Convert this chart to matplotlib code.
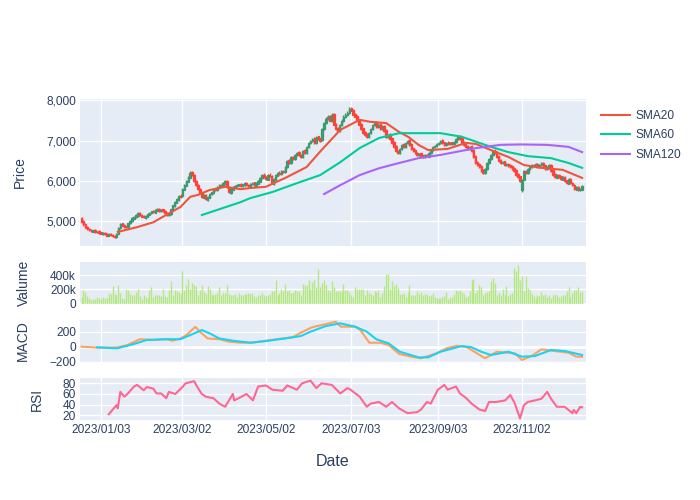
'''Price chart with SMA, volume, MACD and RSI panels'''

import numpy as np
import pandas as pd
import matplotlib.pyplot as plt
from matplotlib.ticker import FuncFormatter

plt.rcParams['font.family'] = ['Liberation Sans', 'DejaVu Sans']

# daily candles (one value per trading day, from 2022-12-20)
open_ = [5080, 5000, 4940, 4860, 4820, 4790, 4750, 4790, 4730, 4760,
         4730, 4690, 4720, 4690, 4650, 4700, 4670, 4650, 4610, 4690,
         4840, 4950, 4910, 4880, 4870, 4950, 5010, 5070, 5110, 5140,
         5210, 5160, 5130, 5090, 5120, 5170, 5210, 5260, 5220, 5270,
         5310, 5250, 5300, 5260, 5210, 5150, 5190, 5290, 5390, 5470,
         5540, 5640, 5620, 5790, 5890, 5990, 6090, 6220, 6160, 6010,
         5910, 5810, 5720, 5590, 5660, 5540, 5590, 5670, 5710, 5820,
         5770, 5840, 5910, 5870, 5940, 6010, 5860, 5710, 5790, 5840,
         5870, 5890, 5930, 5870, 5910, 5960, 5910, 5860, 5920, 5970,
         5890, 5940, 5990, 6070, 6160, 6110, 6040, 6160, 6130, 5940,
         6040, 6140, 6210, 6170, 6260, 6220, 6340, 6520, 6440, 6610,
         6540, 6640, 6720, 6660, 6590, 6770, 6690, 6840, 6940, 6990,
         7070, 6940, 7110, 7060, 7020, 7290, 7440, 7540, 7620, 7490,
         7660, 7420, 7320, 7240, 7390, 7490, 7590, 7640, 7690, 7820,
         7760, 7660, 7620, 7510, 7420, 7310, 7220, 7170, 7090, 7190,
         7290, 7390, 7470, 7340, 7420, 7290, 7360, 7270, 7090, 7170,
         7060, 6970, 6870, 6760, 6690, 6790, 6920, 6840, 6940, 7020,
         6920, 6810, 6770, 6710, 6640, 6690, 6640, 6590, 6660, 6610,
         6690, 6770, 6840, 6870, 6910, 6940, 7020, 6960, 6890, 6970,
         6910, 6960, 6910, 6970, 7040, 7120, 7060, 6970, 6910, 6870,
         6790, 6870, 6770, 6620, 6470, 6420, 6370, 6270, 6190, 6290,
         6440, 6540, 6640, 6760, 6720, 6620, 6520, 6440, 6490, 6390,
         6430, 6400, 6370, 6320, 6270, 6170, 6120, 5780, 6040, 6260,
         6190, 6290, 6340, 6410, 6370, 6430, 6340, 6390, 6460, 6390,
         6290, 6340, 6410, 6270, 6170, 6090, 6160, 6120, 6040, 6110,
         6020, 5940, 6060, 5960, 5910, 5790, 5860, 5770, 5790]
high = [5110, 5030, 4960, 4890, 4840, 4810, 4800, 4810, 4770, 4780,
        4750, 4730, 4740, 4710, 4710, 4720, 4690, 4670, 4720, 4870,
        4960, 4970, 4930, 4900, 4970, 5040, 5100, 5140, 5180, 5230,
        5230, 5180, 5150, 5150, 5200, 5240, 5270, 5280, 5300, 5330,
        5330, 5310, 5320, 5280, 5230, 5200, 5320, 5420, 5500, 5580,
        5650, 5670, 5820, 5930, 6030, 6130, 6240, 6250, 6180, 6030,
        5930, 5830, 5740, 5670, 5680, 5620, 5700, 5740, 5820, 5840,
        5870, 5920, 5930, 5970, 6030, 6030, 5880, 5820, 5870, 5900,
        5920, 5940, 5950, 5940, 5970, 5980, 5930, 5950, 5980, 5990,
        5970, 6020, 6100, 6180, 6190, 6130, 6170, 6190, 6150, 6070,
        6170, 6230, 6240, 6270, 6280, 6370, 6530, 6540, 6620, 6630,
        6670, 6730, 6740, 6680, 6770, 6790, 6870, 6980, 7030, 7080,
        7090, 7120, 7130, 7080, 7320, 7470, 7580, 7630, 7640, 7680,
        7680, 7440, 7340, 7420, 7530, 7630, 7680, 7730, 7830, 7850,
        7780, 7680, 7640, 7530, 7440, 7330, 7240, 7190, 7220, 7330,
        7420, 7480, 7490, 7430, 7440, 7380, 7380, 7290, 7180, 7190,
        7080, 6990, 6890, 6780, 6820, 6930, 6940, 6970, 7030, 7040,
        6940, 6830, 6790, 6730, 6700, 6710, 6660, 6670, 6680, 6720,
        6800, 6870, 6900, 6940, 6970, 7030, 7040, 6980, 6970, 6990,
        6970, 6980, 7000, 7080, 7130, 7140, 7080, 6990, 6930, 6890,
        6870, 6890, 6790, 6640, 6490, 6440, 6390, 6290, 6320, 6470,
        6570, 6670, 6780, 6790, 6740, 6640, 6540, 6510, 6510, 6440,
        6450, 6420, 6390, 6340, 6290, 6190, 6140, 6060, 6270, 6280,
        6320, 6370, 6420, 6430, 6440, 6450, 6420, 6470, 6480, 6410,
        6370, 6420, 6430, 6290, 6190, 6170, 6180, 6140, 6120, 6130,
        6040, 6070, 6080, 5980, 5930, 5870, 5880, 5820, 5900]
low = [4970, 4900, 4830, 4800, 4760, 4730, 4740, 4720, 4710, 4700,
       4680, 4670, 4660, 4630, 4630, 4640, 4620, 4580, 4590, 4680,
       4820, 4880, 4850, 4840, 4850, 4930, 4990, 5050, 5090, 5120,
       5130, 5100, 5080, 5070, 5100, 5150, 5190, 5210, 5200, 5250,
       5240, 5230, 5230, 5180, 5140, 5130, 5170, 5270, 5370, 5450,
       5520, 5580, 5600, 5770, 5870, 5970, 6070, 6120, 5980, 5880,
       5780, 5680, 5580, 5570, 5530, 5520, 5570, 5650, 5690, 5760,
       5750, 5820, 5860, 5850, 5920, 5830, 5700, 5690, 5770, 5820,
       5850, 5870, 5860, 5850, 5890, 5880, 5850, 5840, 5900, 5880,
       5870, 5920, 5970, 6050, 6080, 6030, 6020, 6100, 5920, 5910,
       6020, 6120, 6160, 6150, 6210, 6200, 6320, 6430, 6420, 6530,
       6520, 6620, 6630, 6580, 6570, 6680, 6670, 6820, 6920, 6970,
       6930, 6920, 7030, 6980, 7000, 7270, 7420, 7520, 7480, 7470,
       7380, 7280, 7220, 7220, 7370, 7470, 7570, 7620, 7670, 7730,
       7630, 7580, 7480, 7380, 7280, 7180, 7130, 7070, 7070, 7170,
       7270, 7370, 7330, 7320, 7280, 7270, 7230, 7080, 7070, 7030,
       6930, 6830, 6730, 6670, 6670, 6770, 6830, 6820, 6920, 6880,
       6780, 6730, 6680, 6630, 6620, 6600, 6580, 6570, 6600, 6590,
       6670, 6750, 6820, 6850, 6890, 6920, 6930, 6880, 6870, 6900,
       6890, 6900, 6890, 6950, 7020, 7030, 6930, 6880, 6830, 6780,
       6770, 6730, 6580, 6430, 6380, 6330, 6230, 6170, 6170, 6270,
       6420, 6520, 6620, 6680, 6580, 6480, 6430, 6420, 6380, 6370,
       6360, 6330, 6280, 6230, 6130, 6080, 5980, 5720, 6020, 6180,
       6170, 6270, 6320, 6360, 6350, 6330, 6320, 6370, 6360, 6280,
       6270, 6320, 6230, 6130, 6080, 6070, 6080, 6030, 6020, 5980,
       5930, 5920, 5930, 5880, 5780, 5770, 5760, 5750, 5770]
close = [4990, 4930, 4850, 4820, 4780, 4760, 4780, 4740, 4750, 4720,
         4700, 4710, 4680, 4650, 4690, 4660, 4640, 4620, 4700, 4850,
         4930, 4900, 4870, 4860, 4950, 5020, 5080, 5120, 5150, 5200,
         5150, 5120, 5100, 5130, 5180, 5220, 5250, 5230, 5280, 5300,
         5260, 5290, 5250, 5200, 5160, 5180, 5300, 5400, 5480, 5550,
         5620, 5600, 5800, 5900, 6000, 6100, 6200, 6150, 6000, 5900,
         5800, 5700, 5600, 5650, 5550, 5600, 5680, 5720, 5800, 5780,
         5850, 5900, 5880, 5950, 6000, 5850, 5720, 5800, 5850, 5880,
         5900, 5920, 5880, 5920, 5950, 5900, 5870, 5930, 5960, 5900,
         5950, 6000, 6080, 6150, 6100, 6050, 6150, 6120, 5950, 6050,
         6150, 6200, 6180, 6250, 6230, 6350, 6500, 6450, 6600, 6550,
         6650, 6700, 6650, 6600, 6750, 6700, 6850, 6950, 7000, 7050,
         6950, 7100, 7050, 7000, 7300, 7450, 7550, 7600, 7500, 7650,
         7400, 7300, 7250, 7400, 7500, 7600, 7650, 7700, 7800, 7750,
         7650, 7600, 7500, 7400, 7300, 7200, 7150, 7100, 7200, 7300,
         7400, 7450, 7350, 7400, 7300, 7350, 7250, 7100, 7150, 7050,
         6950, 6850, 6750, 6700, 6800, 6900, 6850, 6950, 7000, 6900,
         6800, 6750, 6700, 6650, 6680, 6620, 6600, 6650, 6620, 6700,
         6780, 6850, 6880, 6920, 6950, 7000, 6950, 6900, 6950, 6920,
         6950, 6920, 6980, 7050, 7100, 7050, 6950, 6900, 6850, 6800,
         6850, 6750, 6600, 6450, 6400, 6350, 6250, 6200, 6300, 6450,
         6550, 6650, 6750, 6700, 6600, 6500, 6450, 6480, 6400, 6420,
         6380, 6350, 6300, 6250, 6150, 6100, 6000, 6030, 6250, 6200,
         6300, 6350, 6400, 6380, 6420, 6350, 6400, 6450, 6380, 6300,
         6350, 6400, 6250, 6150, 6100, 6150, 6100, 6050, 6100, 6000,
         5950, 6050, 5950, 5900, 5800, 5850, 5780, 5800, 5880]
# volume in thousands
volume_k = [90, 188, 160, 103, 80, 56, 61, 70, 90, 80,
            70, 99, 75, 80, 150, 136, 254, 136, 118, 268,
            150, 80, 70, 207, 197, 136, 118, 118, 160, 211,
            103, 70, 118, 99, 80, 188, 230, 90, 118, 118,
            127, 110, 211, 103, 99, 188, 324, 118, 188, 183,
            160, 136, 465, 197, 259, 348, 211, 291, 259, 249,
            118, 197, 259, 160, 136, 249, 207, 136, 118, 136,
            146, 240, 127, 155, 155, 268, 136, 118, 118, 136,
            94, 146, 127, 118, 136, 136, 150, 130,
            146, 103, 99, 118, 127, 146, 127, 103, 118, 136,
            174, 174, 338, 118, 155, 211, 183, 282, 174, 197,
            155, 170, 188, 183, 174, 127, 277, 268, 268, 329,
            207, 301, 338, 230, 489, 235, 291, 329, 268, 197,
            174, 315, 235, 174, 183, 174, 174, 277, 188, 197,
            164, 118, 99, 235, 211, 207, 207, 207, 118, 193,
            150, 136, 127, 174, 164, 188, 90, 150, 244, 418,
            418, 211, 324, 244, 277, 221, 141, 141, 155, 90,
            160, 268, 118, 118, 127, 174, 140,
            164, 127, 136, 136, 103, 127, 150, 90, 80, 80,
            80, 95, 103, 164, 70, 90, 90, 136, 197, 174,
            197, 160, 136, 90, 103, 174, 329, 348, 150, 188,
            259, 230, 127, 150, 160, 174, 324, 362, 291, 118,
            150, 127, 211, 118, 244, 113, 136, 150, 503, 465,
            540, 338, 385, 183, 385, 221, 188, 136, 103, 80,
            118, 103, 164, 127, 136, 99, 118, 80, 127, 136,
            127, 90, 108, 118, 118, 183, 230, 90, 150, 197,
            197, 230, 169, 174]

# moving averages
sma20_dates = ['2023-01-15', '2023-01-29', '2023-02-09', '2023-02-21', '2023-03-01',
               '2023-03-08', '2023-03-14', '2023-03-22', '2023-04-03', '2023-04-13',
               '2023-04-20', '2023-05-02', '2023-05-16', '2023-05-31', '2023-06-11',
               '2023-06-24', '2023-07-08', '2023-07-17', '2023-07-27', '2023-08-06',
               '2023-08-13', '2023-08-20', '2023-08-27', '2023-09-10', '2023-09-23',
               '2023-09-30', '2023-10-11', '2023-10-24', '2023-11-03', '2023-11-16',
               '2023-12-01', '2023-12-15']
sma20 = [4740, 4860, 4980, 5200, 5360, 5610, 5660, 5780, 5860, 5800,
         5830, 5860, 6080, 6350, 6770, 7270, 7520, 7470, 7440, 7220,
         7090, 6900, 6770, 6800, 6950, 6920, 6770, 6600, 6400, 6330,
         6280, 6080]
sma60_dates = ['2023-03-16', '2023-04-13', '2023-04-20', '2023-05-06', '2023-05-24',
               '2023-06-09', '2023-06-24', '2023-07-08', '2023-07-22', '2023-08-06',
               '2023-08-20', '2023-09-05', '2023-09-20', '2023-10-11', '2023-10-24',
               '2023-11-07', '2023-11-23', '2023-12-06', '2023-12-15']
sma60 = [5160, 5480, 5580, 5730, 5950, 6150, 6470, 6820, 7070, 7190,
         7190, 7190, 7100, 6850, 6720, 6620, 6570, 6450, 6330]
sma120_dates = ['2023-06-13', '2023-06-24', '2023-07-08', '2023-07-22', '2023-08-06',
                '2023-08-20', '2023-09-05', '2023-09-30', '2023-10-18', '2023-11-01',
                '2023-11-21', '2023-12-06', '2023-12-15']
sma120 = [5680, 5900, 6150, 6320, 6450, 6570, 6650, 6820, 6900, 6910,
          6900, 6850, 6720]

# MACD and signal
macd_dates = ['2022-12-20', '2023-01-02', '2023-01-14', '2023-01-22', '2023-01-31',
              '2023-02-09', '2023-02-19', '2023-02-23', '2023-03-01', '2023-03-06',
              '2023-03-12', '2023-03-15', '2023-03-21', '2023-03-29', '2023-04-05',
              '2023-04-13', '2023-04-22', '2023-05-02', '2023-05-14', '2023-05-21',
              '2023-05-26', '2023-06-04', '2023-06-14', '2023-06-21', '2023-06-25',
              '2023-07-05', '2023-07-09', '2023-07-15', '2023-07-24', '2023-07-29',
              '2023-08-06', '2023-08-15', '2023-08-22', '2023-09-01', '2023-09-08',
              '2023-09-17', '2023-09-24', '2023-10-06', '2023-10-16', '2023-10-28',
              '2023-11-02', '2023-11-09', '2023-11-16', '2023-11-26', '2023-12-06',
              '2023-12-12', '2023-12-15']
macd = [0, -13, -10, 22, 100, 90, 100, 80, 110, 155,
        265, 200, 110, 100, 67, 53, 55, 80, 110, 125,
        187, 258, 302, 333, 267, 267, 222, 53, 53, 22,
        -97, -133, -155, -88, -22, 13, -7, -155, -67, -88,
        -177, -124, -35, -57, -80, -133, -133]
signal_dates = ['2022-12-30', '2023-01-14', '2023-01-26', '2023-02-05', '2023-02-19',
                '2023-03-01', '2023-03-08', '2023-03-16', '2023-03-22', '2023-03-29',
                '2023-04-07', '2023-04-20', '2023-05-02', '2023-05-16', '2023-05-26',
                '2023-06-02', '2023-06-14', '2023-06-24', '2023-07-05', '2023-07-13',
                '2023-07-20', '2023-07-29', '2023-08-07', '2023-08-20', '2023-08-27',
                '2023-09-05', '2023-09-20', '2023-09-27', '2023-10-04', '2023-10-11',
                '2023-10-24', '2023-11-02', '2023-11-12', '2023-11-23', '2023-12-04',
                '2023-12-15']
signal = [-8, -22, 36, 90, 100, 100, 155, 222, 178, 110,
          80, 53, 75, 110, 142, 200, 276, 311, 267, 200,
          98, 44, -67, -142, -142, -67, 9, -7, -67, -111,
          -67, -133, -124, -44, -57, -111]

# RSI
rsi_dates = ['2023-01-09', '2023-01-13', '2023-01-15', '2023-01-17', '2023-01-19',
             '2023-01-22', '2023-01-26', '2023-01-29', '2023-02-02', '2023-02-05',
             '2023-02-09', '2023-02-12', '2023-02-15', '2023-02-19', '2023-02-21',
             '2023-02-25', '2023-03-02', '2023-03-05', '2023-03-10', '2023-03-14',
             '2023-03-16', '2023-03-20', '2023-03-24', '2023-03-29', '2023-04-03',
             '2023-04-07', '2023-04-09', '2023-04-13', '2023-04-18', '2023-04-22',
             '2023-04-26', '2023-05-02', '2023-05-06', '2023-05-14', '2023-05-17',
             '2023-05-24', '2023-05-28', '2023-06-02', '2023-06-07', '2023-06-11',
             '2023-06-19', '2023-06-24', '2023-06-29', '2023-07-02', '2023-07-08',
             '2023-07-13', '2023-07-17', '2023-07-22', '2023-07-27', '2023-08-01',
             '2023-08-06', '2023-08-11', '2023-08-18', '2023-08-22', '2023-08-25',
             '2023-08-29', '2023-09-03', '2023-09-07', '2023-09-10', '2023-09-15',
             '2023-09-19', '2023-09-23', '2023-09-27', '2023-10-03', '2023-10-06',
             '2023-10-10', '2023-10-15', '2023-10-21', '2023-10-25', '2023-10-28',
             '2023-11-01', '2023-11-03', '2023-11-07', '2023-11-12', '2023-11-16',
             '2023-11-21', '2023-11-23', '2023-11-28', '2023-12-04', '2023-12-08',
             '2023-12-10', '2023-12-12', '2023-12-14', '2023-12-15']
rsi = [22, 39, 33, 64, 55, 60, 74, 77, 67, 73,
       70, 61, 61, 52, 64, 60, 73, 80, 84, 71,
       60, 55, 52, 42, 36, 60, 48, 54, 60, 48,
       74, 76, 68, 66, 76, 68, 80, 85, 71, 80,
       77, 61, 71, 68, 55, 36, 42, 45, 36, 45,
       33, 24, 26, 31, 45, 42, 68, 77, 68, 74,
       61, 52, 42, 31, 28, 45, 45, 48, 58, 42,
       14, 39, 45, 48, 51, 64, 51, 36, 36, 24,
       30, 24, 36, 35]

tick_dates = ['2023-01-03', '2023-03-02', '2023-05-02', '2023-07-03', '2023-09-03', '2023-11-02']
tick_labels = ['2023/01/03', '2023/03/02', '2023/05/02', '2023/07/03', '2023/09/03', '2023/11/02']

BG = '#E5ECF6'
TXT = '#2a3f5f'
UP, DOWN = '#3D9970', '#FF4136'

# trading days; the x axis skips weekends, so positions run by trading day
dates = pd.bdate_range('2022-12-20', periods=len(close))
pos = np.arange(len(dates))

def to_pos(ds):
    d = pd.to_datetime(ds).values.astype('int64')
    return np.interp(d, dates.values.astype('int64'), pos)

df = pd.DataFrame({'open': open_, 'high': high, 'low': low, 'close': close,
                   'volume': [v * 1000 for v in volume_k]}, index=dates)
up = (df['close'] >= df['open']).values
edge = [UP if u else DOWN for u in up]
face = [(0.239, 0.6, 0.439, 0.6) if u else (1.0, 0.255, 0.212, 0.6) for u in up]

fig = plt.figure(figsize=(7, 5), dpi=100)
W = 700.0
H = 500.0
def panel(top, bottom):
    return fig.add_axes([80 / W, 1 - bottom / H, 506 / W, (bottom - top) / H])

ax1 = panel(99, 246)
ax2 = panel(262.3, 303.7)
ax3 = panel(320, 362.3)
ax4 = panel(378.3, 420)

for ax in (ax1, ax2, ax3, ax4):
    ax.set_facecolor(BG)
    for s in ax.spines.values():
        s.set_visible(False)
    ax.set_axisbelow(True)
    ax.grid(True, color='white', lw=1)
    ax.tick_params(length=0, labelsize=8.6, labelcolor=TXT, pad=3)
    ax.set_xlim(-0.8, 260)
    ax.set_xticks(to_pos(tick_dates))
    ax.set_xticklabels(tick_labels)
    if ax is not ax4:
        ax.tick_params(labelbottom=False)
ax2.grid(False, axis='x')

# price: candles + SMAs
ax1.vlines(pos, df['low'], df['high'], colors=edge, lw=1, zorder=2)
ax1.bar(pos, df['close'] - df['open'], bottom=df['open'], width=0.75,
        color=face, edgecolor=edge, linewidth=0.9, zorder=3)
l20, = ax1.plot(to_pos(sma20_dates), sma20, color='#EF553B', lw=1.5, label='SMA20', zorder=4)
l60, = ax1.plot(to_pos(sma60_dates), sma60, color='#00cc96', lw=1.5, label='SMA60', zorder=4)
l120, = ax1.plot(to_pos(sma120_dates), sma120, color='#ab63fa', lw=1.5, label='SMA120', zorder=4)
ax1.set_ylim(4392, 8037)
ax1.set_yticks([5000, 6000, 7000, 8000])
ax1.yaxis.set_major_formatter(FuncFormatter(lambda v, p: f'{v:,.0f}'))

# volume
ax2.vlines(pos, 0, df['volume'], colors='#B6E880', lw=1.0, zorder=2)
ax2.axhline(0, color='white', lw=2, zorder=1)
ax2.set_ylim(0, 583000)
ax2.set_yticks([0, 200000, 400000])
ax2.yaxis.set_major_formatter(FuncFormatter(lambda v, p: f'{v/1000:.0f}k' if v else '0'))

# MACD
ax3.axhline(0, color='white', lw=2, zorder=1)
ax3.plot(to_pos(macd_dates), macd, color='#FFA15A', lw=1.5, zorder=3)
ax3.plot(to_pos(signal_dates), signal, color='#19d3f3', lw=1.5, zorder=3)
ax3.set_ylim(-208, 356)
ax3.set_yticks([-200, 0, 200])
ax3.yaxis.set_major_formatter(FuncFormatter(lambda v, p: f'{v:.0f}'.replace('-', '\u2212')))

# RSI
ax4.plot(to_pos(rsi_dates), rsi, color='#FF6692', lw=1.5, zorder=3)
ax4.set_ylim(11.2, 89.4)
ax4.set_yticks([20, 40, 60, 80])

# axis titles
fig.text(20 / W, 1 - 172.5 / H, 'Price', rotation=90, ha='center', va='center', fontsize=10, color=TXT)
fig.text(24 / W, 1 - 283 / H, 'Valume', rotation=90, ha='center', va='center', fontsize=10, color=TXT)
fig.text(23 / W, 1 - 341 / H, 'MACD', rotation=90, ha='center', va='center', fontsize=10, color=TXT)
fig.text(37 / W, 1 - 399 / H, 'RSI', rotation=90, ha='center', va='center', fontsize=10, color=TXT)
fig.text(333 / W, 1 - 461 / H, 'Date', ha='center', va='center', fontsize=11.5, color=TXT)

fig.legend(handles=[l20, l60, l120], loc='upper left', bbox_to_anchor=(601 / W, 1 - 110 / H),
           frameon=False, fontsize=8.6, handlelength=2.4, handletextpad=0.5,
           labelspacing=0.62, borderaxespad=0, borderpad=0, labelcolor=TXT)

fig.savefig('out.png', dpi=100, facecolor='white')
